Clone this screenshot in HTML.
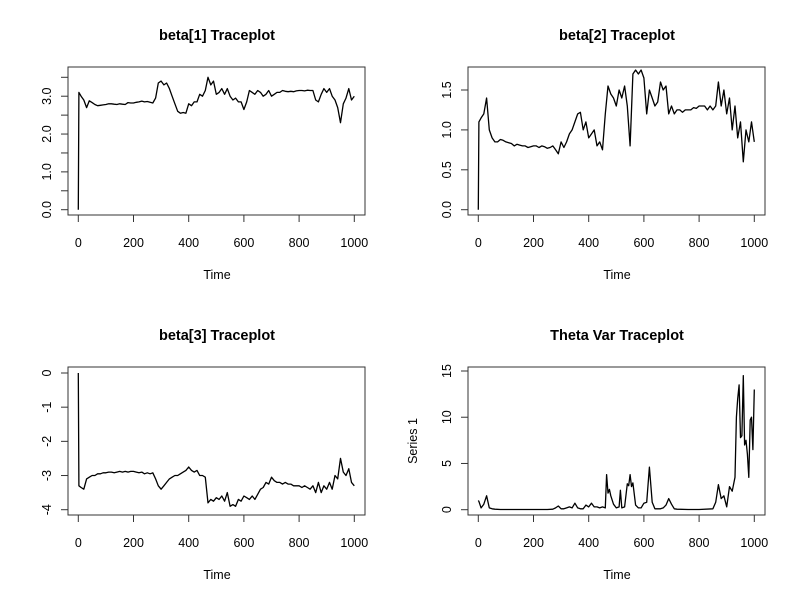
<!DOCTYPE html>
<html><head><meta charset="utf-8"><style>
body{margin:0;background:#fff}
svg{display:block;font-family:"Liberation Sans",Arial,sans-serif}
</style></head><body>
<svg id="chart" width="800" height="600" viewBox="0 0 800 600"></svg>
<script>
const b1Times=[0,2,10,20,30,40,50,60,70,80,90,100,110,120,130,140,150,160,170,180,190,200,210,220,230,240,250,260,270,280,290,300,310,320,330,340,350,360,370,380,390,400,410,420,430,440,450,460,470,480,490,500,510,520,530,540,550,560,570,580,590,600,610,620,630,640,650,660,670,680,690,700,710,720,730,740,750,760,770,780,790,800,810,820,830,840,850,860,870,880,890,900,910,920,930,940,950,960,970,980,990,1000];
const b1Values=[0,3.1,3.0,2.9,2.7,2.88,2.83,2.78,2.75,2.76,2.77,2.78,2.8,2.8,2.79,2.78,2.8,2.79,2.78,2.83,2.82,2.82,2.84,2.85,2.87,2.85,2.86,2.84,2.82,2.95,3.35,3.4,3.3,3.35,3.2,3.0,2.8,2.6,2.55,2.57,2.55,2.8,2.75,2.85,2.85,3.05,3.0,3.15,3.5,3.3,3.4,3.05,3.1,3.2,3.05,3.2,3.0,2.9,2.95,2.85,2.85,2.65,2.85,3.15,3.1,3.05,3.15,3.1,3.0,3.05,3.15,3.0,3.05,3.1,3.1,3.15,3.13,3.12,3.13,3.12,3.14,3.15,3.15,3.14,3.16,3.15,3.15,2.9,2.85,3.05,3.2,3.1,3.2,3.0,2.9,2.7,2.3,2.8,2.95,3.2,2.9,3.0];
const b2Values=[0,1.1,1.15,1.2,1.4,1.0,0.9,0.85,0.85,0.88,0.87,0.85,0.84,0.83,0.8,0.82,0.81,0.8,0.8,0.78,0.79,0.8,0.8,0.78,0.8,0.79,0.77,0.78,0.8,0.75,0.7,0.85,0.78,0.85,0.95,1.0,1.1,1.2,1.22,1.0,1.1,0.9,0.95,1.0,0.8,0.85,0.75,1.2,1.55,1.45,1.4,1.3,1.5,1.4,1.55,1.3,0.8,1.7,1.75,1.7,1.75,1.65,1.2,1.5,1.4,1.3,1.35,1.6,1.5,1.55,1.2,1.3,1.2,1.25,1.25,1.22,1.25,1.25,1.25,1.28,1.27,1.3,1.3,1.3,1.25,1.3,1.25,1.3,1.6,1.3,1.5,1.2,1.4,1.0,1.3,0.9,1.1,0.6,1.0,0.85,1.1,0.85];
const b3Values=[0,-3.3,-3.35,-3.4,-3.1,-3.05,-3.0,-3.0,-2.95,-2.95,-2.92,-2.92,-2.9,-2.9,-2.92,-2.9,-2.88,-2.9,-2.88,-2.9,-2.88,-2.88,-2.9,-2.92,-2.9,-2.95,-2.92,-2.95,-2.92,-3.1,-3.3,-3.4,-3.3,-3.2,-3.1,-3.05,-3.0,-3.0,-2.95,-2.9,-2.85,-2.75,-2.85,-2.9,-2.85,-3.0,-3.0,-3.05,-3.8,-3.7,-3.75,-3.65,-3.7,-3.6,-3.75,-3.5,-3.9,-3.85,-3.9,-3.7,-3.75,-3.6,-3.65,-3.7,-3.6,-3.7,-3.55,-3.4,-3.35,-3.2,-3.25,-3.05,-3.15,-3.2,-3.2,-3.25,-3.2,-3.25,-3.25,-3.3,-3.3,-3.3,-3.35,-3.3,-3.35,-3.4,-3.3,-3.5,-3.2,-3.5,-3.3,-3.4,-3.2,-3.4,-3.0,-3.1,-2.5,-2.9,-3.0,-2.8,-3.2,-3.3];
const thTimes=[0,2,10,20,30,40,50,60,80,100,150,200,250,270,280,290,300,310,320,330,340,350,360,370,380,390,400,410,420,430,440,450,460,465,470,475,480,490,500,510,515,520,530,540,545,550,555,560,570,580,590,600,610,620,630,640,650,660,670,680,690,700,710,720,760,800,850,860,870,880,890,900,910,920,930,935,940,945,950,955,960,965,970,975,980,985,990,995,1000];
const thValues=[1.0,0.9,0.2,0.6,1.5,0.2,0.1,0.05,0.02,0.02,0.02,0.02,0.02,0.05,0.2,0.4,0.1,0.1,0.2,0.3,0.2,0.7,0.2,0.1,0.1,0.5,0.3,0.7,0.3,0.3,0.2,0.3,0.2,3.8,1.8,2.2,1.5,0.6,0.2,0.3,2.1,0.2,0.3,2.8,2.6,3.8,2.5,2.9,0.5,0.2,0.2,0.7,0.8,4.6,0.8,0.1,0.1,0.1,0.2,0.5,1.2,0.6,0.1,0.05,0.02,0.02,0.1,0.8,2.7,1.2,1.5,0.3,2.5,2.0,3.5,10,12,13.5,7.8,8,14.5,7,7.5,6,3.5,9.7,10,6.5,13];
const panels=[
 {name:'beta1',title:'beta[1] Traceplot',t:b1Times,v:b1Values,ox:0,oy:0,ymin:0,ymax:3.5,ticks:[0,0.5,1,1.5,2,2.5,3,3.5],labels:{0:'0.0',1:'1.0',2:'2.0',3:'3.0'},y0:209.7,y1:77.3},
 {name:'beta2',title:'beta[2] Traceplot',t:b1Times,v:b2Values,ox:400,oy:0,ymin:0,ymax:1.5,ticks:[0,0.5,1,1.5],labels:{0:'0.0',0.5:'0.5',1:'1.0',1.5:'1.5'},y0:209.7,y1:90},
 {name:'beta3',title:'beta[3] Traceplot',t:b1Times,v:b3Values,ox:0,oy:300,ymin:0,ymax:-4,ticks:[0,-1,-2,-3,-4],labels:{0:'0','-1':'-1','-2':'-2','-3':'-3','-4':'-4'},y0:73,y1:209.7},
 {name:'theta-var',title:'Theta Var Traceplot',t:thTimes,v:thValues,ox:400,oy:300,ymin:0,ymax:15,ticks:[0,5,10,15],labels:{0:'0',5:'5',10:'10',15:'15'},y0:209.7,y1:71,ylab:'Series 1'}
];
const xTicks=[0,200,400,600,800,1000];
const NS='http://www.w3.org/2000/svg';
const svg=document.getElementById('chart');
function mk(tag,attrs,parent,text){const e=document.createElementNS(NS,tag);for(const k in attrs)e.setAttribute(k,attrs[k]);if(text!==undefined)e.textContent=text;parent.appendChild(e);return e;}
panels.forEach(p=>{
 const g=mk('g',{transform:`translate(${p.ox},${p.oy})`},svg);
 
 
 const xs=t=>78.3+t*0.276;
 const ys=v=>p.y0+(v-p.ymin)/(p.ymax-p.ymin)*(p.y1-p.y0);
 const title=mk('text',{x:217,y:40,'text-anchor':'middle','font-size':'14.5','font-weight':'bold'},g,p.title);
 
 
 const box=mk('rect',{x:68,y:67,width:297,height:148,fill:'none',stroke:'#333','stroke-width':1},g);
 
 
 const xa=mk('g',{},g);
 
 
 mk('line',{x1:xs(0),x2:xs(1000),y1:215,y2:215,stroke:'#333'},xa);
 xTicks.forEach(t=>{mk('line',{x1:xs(t),x2:xs(t),y1:215,y2:222,stroke:'#333'},xa);
  mk('text',{x:xs(t),y:247,'text-anchor':'middle','font-size':'12.5'},xa,String(t));});
 const xl=mk('text',{x:217,y:279,'text-anchor':'middle','font-size':'12.5'},g,'Time');
 
 
 const ya=mk('g',{},g);
 
 
 const tv=p.ticks;
 mk('line',{x1:68,x2:68,y1:ys(tv[0]),y2:ys(tv[tv.length-1]),stroke:'#333'},ya);
 tv.forEach(v=>{const y=ys(v);mk('line',{x1:61,x2:68,y1:y,y2:y,stroke:'#333'},ya);
  const l=p.labels[String(v)];
  if(l!==undefined)mk('text',{x:0,y:0,transform:`translate(51,${y}) rotate(-90)`,'text-anchor':'middle','font-size':'12.5'},ya,l);});
 if(p.ylab){const yl=mk('text',{x:0,y:0,transform:`translate(17,141) rotate(-90)`,'text-anchor':'middle','font-size':'12.5'},g,p.ylab);
  
  }
 const d=p.t.map((t,i)=>(i?'L':'M')+xs(t).toFixed(1)+','+ys(p.v[i]).toFixed(1)).join('');
 const path=mk('path',{d:d,fill:'none',stroke:'#000','stroke-width':1.3,'stroke-linejoin':'round'},g);
 
 
});
</script>
</body></html>
